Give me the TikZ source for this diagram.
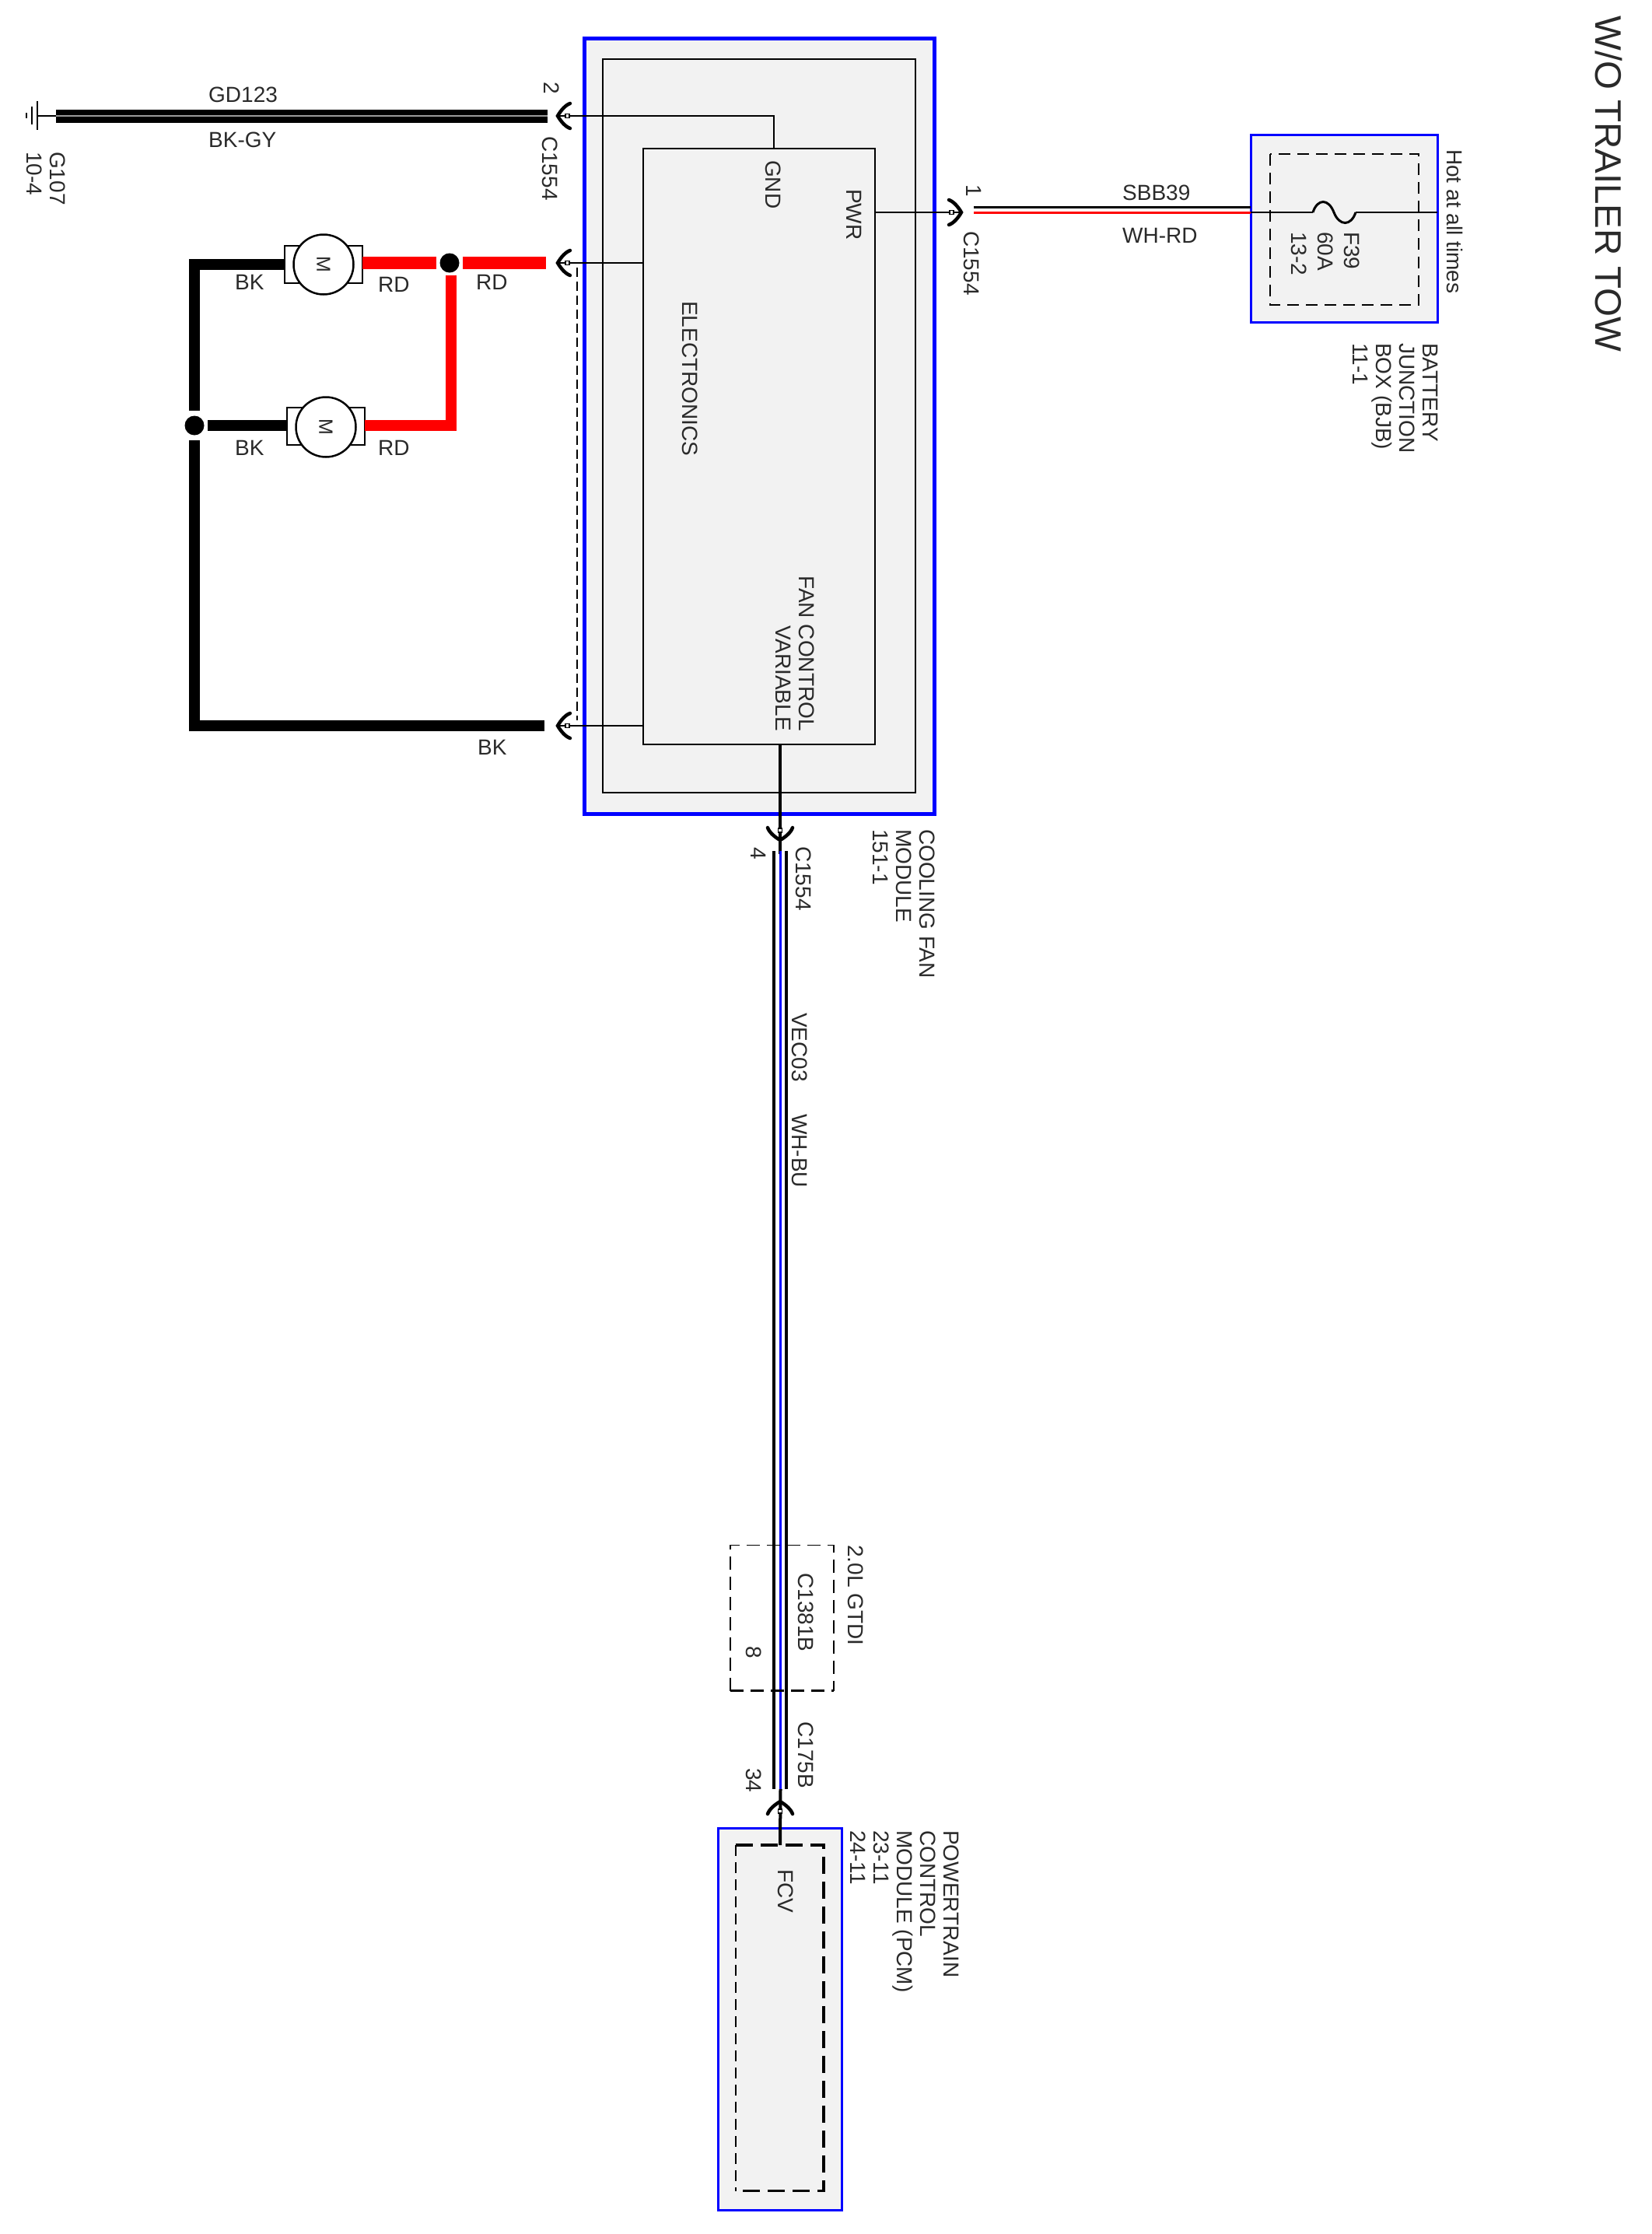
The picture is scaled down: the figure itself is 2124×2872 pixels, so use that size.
\documentclass[tikz,border=0pt]{standalone}
\usepackage{fontspec}
\usepackage{color}
\setmainfont{Liberation Sans}
\definecolor{blue500}{HTML}{0000FF}
\definecolor{red500}{HTML}{FF0000}
\definecolor{gray100}{HTML}{F2F2F2}
\definecolor{gray500}{HTML}{9A9A9A}
\definecolor{ink}{HTML}{2A2A2A}
\tikzstyle{bluebox}=[rectangle, draw=blue500, fill=gray100, line width=3pt, inner sep=0pt, outer sep=0pt]
\tikzstyle{innerbox}=[rectangle, draw=black, line width=2.5pt, inner sep=0pt, outer sep=0pt]
\tikzstyle{vlabel}=[xshift=2.5pt, rotate=-90, anchor=base west, inner sep=0pt, text=ink, font=\fontsize{28}{30}\selectfont]
\tikzstyle{vblock}=[rotate=-90, anchor=north west, align=left, inner sep=0pt, text=ink, font=\fontsize{28}{30}\selectfont]
\tikzstyle{hlabel}=[anchor=base west, inner sep=0pt, text=ink, font=\fontsize{28}{30}\selectfont]
\tikzstyle{joint}=[circle, fill=black, inner sep=0pt, minimum size=25pt]
\tikzstyle{bracket}=[rectangle, draw=black, fill=white, line width=2.5pt, inner sep=0pt, outer sep=0pt, minimum width=100pt, minimum height=48pt]
\tikzstyle{motor}=[circle, draw=black, fill=white, line width=2.5pt, inner sep=0pt, minimum size=77pt, text=ink, font=\fontsize{25}{25}\selectfont]
\tikzset{forktip/.pic={
	\path[draw=black, line width=4.5pt, line cap=round] (16,-16) .. controls (10,-14) and (4,-7) .. (0,0) .. controls (4,7) and (10,14) .. (16,16);
	\path[draw=black, fill=white, line width=1.5pt] (10,-2.5) rectangle (15,2.5);
}}

\begin{document}
\begin{tikzpicture}[x=1pt, y=-1pt]
	\useasboundingbox (0,0) rectangle (2124,2872);
	\node[bluebox, line width=5pt, minimum width=450pt, minimum height=997pt] (fanmodule) at (976,547.5){};
	\node[innerbox, minimum width=402pt, minimum height=943pt] (fanframe) at (976,547.5){};
	\node[innerbox, minimum width=298pt, minimum height=766pt] (electronics) at (976,574){};
	\node[bluebox, minimum width=240pt, minimum height=241pt] (bjb) at (1728.5,293.5){};
	\node[bluebox, minimum width=159pt, minimum height=491pt] (pcm) at (1002.5,2595.5){};

	\coordinate (g1) at (48,149);
	\coordinate (g2) at (72,149);
	\coordinate (g3) at (704,149);
	\coordinate (c2) at (717,149);
	\coordinate (gndpin) at (995,191);
	\coordinate (a1) at (702,338);
	\coordinate (c3) at (717,338);
	\coordinate (e3) at (827,338);
	\coordinate (a2) at (700,933);
	\coordinate (c5) at (717,933);
	\coordinate (e5) at (827,933);
	\coordinate (d1) at (742,344);
	\coordinate (d2) at (742,926);
	\coordinate (pwrpin) at (1125,273);
	\coordinate (c1) at (1236,273);
	\coordinate (w1a) at (1252,266.5);
	\coordinate (w1b) at (1608,266.5);
	\coordinate (w2a) at (1252,273);
	\coordinate (w2b) at (1608,273);
	\coordinate (f1) at (1688,273);
	\coordinate (f2) at (1743,273);
	\coordinate (f3) at (1848,273);
	\coordinate (fcvout) at (1003,957);
	\coordinate (c4) at (1003,1080);
	\coordinate (t1) at (1003,1098);
	\coordinate (t2) at (1003.5,1094);
	\coordinate (t3) at (1003.5,2300);
	\coordinate (c6) at (1003,2316);
	\coordinate (fcvpin) at (1003,2372);
	\coordinate (k1) at (995,1094);
	\coordinate (k2) at (995,2300);
	\coordinate (k3) at (1011,1094);
	\coordinate (k4) at (1011,2300);

	\path[draw=black, line width=2pt] (g1) -- (g2);
	\path[draw=black, line width=2pt] (48,130) -- (48,167);
	\path[draw=black, line width=2pt] (41,137) -- (41,160);
	\path[draw=black, line width=2pt] (34,145) -- (34,152);
	\path[draw=black, line width=17pt] (g2) -- (g3);
	\path[draw=gray500, line width=2pt] (g2) -- (g3);
	\path[draw=black, line width=2pt] (c2) -| (gndpin);

	\node[bracket] (b1) at (416,340){};
	\node[motor] (m1) at (416,340){\rotatebox{-90}{M}};
	\node[bracket] (b2) at (419,548){};
	\node[motor] (m2) at (419,549){\rotatebox{-90}{M}};
	\node[joint] (j1) at (578,338){};
	\node[joint] (j2) at (250,547){};

	\path[draw=red500, line width=16pt] (b1.east |- j1) -- (561,338);
	\path[draw=red500, line width=16pt] (595,338) -- (a1);
	\path[draw=red500, line width=14pt, line join=miter] (580,354) |- (b2.east |- j2);
	\path[draw=black, line width=14pt, line join=miter] (b1.west) -| (250,528);
	\path[draw=black, line width=14pt, line join=miter] (250,566) |- (a2);
	\path[draw=black, line width=14pt] (267,547) -- (b2.west |- j2);
	\path[draw=black, line width=2pt] (c3) -- (e3);
	\path[draw=black, line width=2pt] (c5) -- (e5);
	\path[draw=black, line width=1.5pt, dash pattern=on 12pt off 6pt] (d1) -- (d2);

	\path[draw=black, line width=2.5pt] (pwrpin) -- (c1);
	\path[draw=black, line width=3pt] (w1a) -- (w1b);
	\path[draw=red500, line width=3pt] (w2a) -- (w2b);
	\path[draw=black, line width=2.5pt] (w2b) -- (f1);
	\path[draw=black, line width=3pt] (f1) .. controls (1694,255) and (1708,255) .. (1715,273) .. controls (1722,291) and (1737,291) .. (f2);
	\path[draw=black, line width=2.5pt] (f2) -- (f3);
	\path[draw=black, line width=2pt, dash pattern=on 15pt off 9pt] (1633,198) rectangle (1824,392);

	\path[draw=black, line width=4pt] (fcvout) -- (t1);
	\path[draw=black, line width=4pt] (k1) -- (k2);
	\path[draw=black, line width=4pt] (k3) -- (k4);
	\path[draw=blue500, line width=3.5pt] (t2) -- (t3);
	\path[draw=black, line width=4pt] (t3) -- (fcvpin);
	\path[draw=black, line width=1.5pt, dash pattern=on 17pt off 9pt] (939,2173.5) -- (939,1986.5) -- (1072,1986.5) -- (1072,2173.5);
	\path[draw=black, line width=3pt, dash pattern=on 17pt off 9pt] (939,2173.5) -- (1072,2173.5);
	\path[draw=black, line width=1.5pt, dash pattern=on 14pt off 8pt] (946,2372) -- (946,2816.5);
	\path[draw=black, line width=3.5pt, dash pattern=on 22pt off 10pt] (946,2372) -- (1059,2372) -- (1059,2816.5) -- (946,2816.5);

	\pic at (c2) {forktip};
	\pic at (c3) {forktip};
	\pic at (c5) {forktip};
	\pic[rotate=180] at (c1) {forktip};
	\pic[rotate=90] at (c4) {forktip};
	\pic[rotate=-90] at (c6) {forktip};

	\node[hlabel] (gdname) at (268,131){GD123};
	\node[hlabel] (gdcolor) at (268,189){BK-GY};
	\node[vblock] (g107) at (84,195){G107\\10-4};
	\node[vlabel] (pin2) at (697,105){2};
	\node[vlabel] (c1554a) at (695,175){C1554};
	\node[hlabel] (bk1) at (302,372){BK};
	\node[hlabel] (bk2) at (302,585){BK};
	\node[hlabel] (bk3) at (614,970){BK};
	\node[hlabel] (rd1) at (486,375){RD};
	\node[hlabel] (rd2) at (612,372){RD};
	\node[hlabel] (rd3) at (486,585){RD};
	\node[vlabel] (gndname) at (982,206){GND};
	\node[vlabel] (pwrname) at (1086,243){PWR};
	\node[vlabel] (elecname) at (875,387){ELECTRONICS};
	\node[rotate=-90, anchor=north east, align=right, inner sep=0pt, text=ink, font=\fontsize{28}{30}\selectfont] (fanname) at (1047,940){FAN CONTROL\\VARIABLE};
	\node[vlabel] (pin1) at (1240,237){1};
	\node[vlabel] (c1554b) at (1237,297){C1554};
	\node[hlabel] (sbb) at (1443,257){SBB39};
	\node[hlabel] (whrd) at (1443,312){WH-RD};
	\node[vblock, font=\fontsize{28}{34}\selectfont] (fuse) at (1748,298){F39\\60A\\13-2};
	\node[vlabel] (hot) at (1858,192){Hot at all times};
	\node[vblock] (bjbname) at (1849,441){BATTERY\\JUNCTION\\BOX (BJB)\\11-1};
	\node[vlabel, font=\fontsize{47.5}{52}\selectfont] (title) at (2049,20){W/O TRAILER TOW};
	\node[vlabel] (pin4) at (963,1089){4};
	\node[vlabel] (c1554c) at (1021,1088){C1554};
	\node[vlabel] (vec) at (1016,1302){VEC03};
	\node[vlabel] (whbu) at (1016,1432){WH-BU};
	\node[vblock] (fanlabel) at (1202,1066){COOLING FAN\\MODULE\\151-1};
	\node[vlabel] (engine) at (1088,1986){2.0L GTDI};
	\node[vlabel] (c1381) at (1024,2022){C1381B};
	\node[vlabel] (pin8) at (957,2116){8};
	\node[vlabel] (c175) at (1024,2213){C175B};
	\node[vlabel] (pin34) at (957,2273){34};
	\node[vlabel] (fcv) at (998,2403){FCV};
	\node[vblock] (pcmname) at (1233,2353){POWERTRAIN\\CONTROL\\MODULE (PCM)\\23-11\\24-11};
\end{tikzpicture}
\end{document}
